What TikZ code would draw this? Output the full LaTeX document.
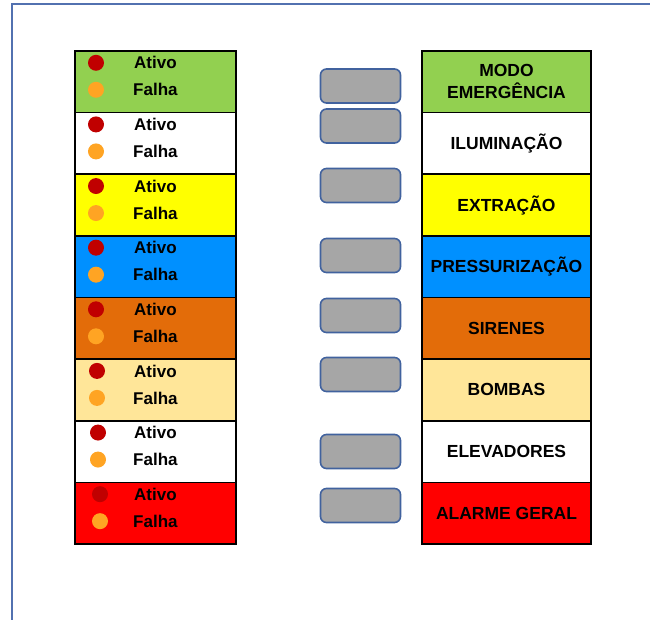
\documentclass[tikz,border=0pt]{standalone}
\usepackage{fontspec}
\setmainfont{Liberation Sans}
\definecolor{cgreen}{HTML}{92D050}
\definecolor{cyellow}{HTML}{FFFF00}
\definecolor{cblue}{HTML}{0090FF}
\definecolor{corange}{HTML}{E36C09}
\definecolor{clight}{HTML}{FFE699}
\definecolor{cred}{HTML}{FF0000}
\definecolor{dotred}{HTML}{C00000}
\definecolor{dotorange}{HTML}{FFA423}
\definecolor{gbox}{HTML}{A6A6A6}
\definecolor{gborder}{HTML}{41629E}
\definecolor{framec}{HTML}{5271B0}
\tikzset{
  rowbox/.style={draw=black, line width=1.6pt, minimum height=61.6pt, inner sep=0pt, outer sep=0pt},
  leftrow/.style={rowbox, minimum width=161pt},
  rightrow/.style={rowbox, minimum width=169pt, align=center, font=\fontsize{17.5}{22}\selectfont\bfseries},
  dotA/.style={circle, fill=dotred, minimum size=16pt, inner sep=0pt},
  dotF/.style={circle, fill=dotorange, minimum size=16pt, inner sep=0pt},
  lbl/.style={anchor=west, inner sep=0pt, font=\fontsize{17}{20}\selectfont\bfseries},
  grey/.style={draw=gborder, line width=1.6pt, fill=gbox, rounded corners=6pt, minimum width=80pt, minimum height=34pt, inner sep=0pt}
}
\begin{document}
\begin{tikzpicture}[x=1pt,y=-1pt]
\useasboundingbox (0,0) rectangle (650,620);
\begin{scope}
\clip (0,0) rectangle (650,620);
\draw[framec, line width=1.5pt] (12,700) -- (12,4) -- (700,4);
\end{scope}
\foreach \i/\c/\dx/\txt in {1/cgreen/96/{MODO\\EMERGÊNCIA},2/white/96/ILUMINAÇÃO,3/cyellow/96/EXTRAÇÃO,4/cblue/96/PRESSURIZAÇÃO,5/corange/96/SIRENES,6/clight/97/BOMBAS,7/white/98/ELEVADORES,8/cred/100/ALARME GERAL}{
  \pgfmathsetmacro{\yc}{51+61.625*(\i-1)+30.8}
  \node[leftrow, fill=\c] (L\i) at (155.5,\yc) {};
  \node[rightrow, fill=\c] (R\i) at (506.5,\yc) {\txt};
  \node[dotA] (A\i) at (\dx,\yc-19) {};
  \node[dotF] (F\i) at (\dx,\yc+8) {};
  \node[lbl] (TA\i) at (134,\yc-19) {Ativo};
  \node[lbl] (TF\i) at (133,\yc+8) {Falha};
}
\foreach \j/\y in {1/86,2/126,3/185.5,4/255.5,5/315.5,6/374.5,7/451.5,8/505.5}{
  \node[grey] (G\j) at (360.5,\y) {};
}
\end{tikzpicture}
\end{document}
